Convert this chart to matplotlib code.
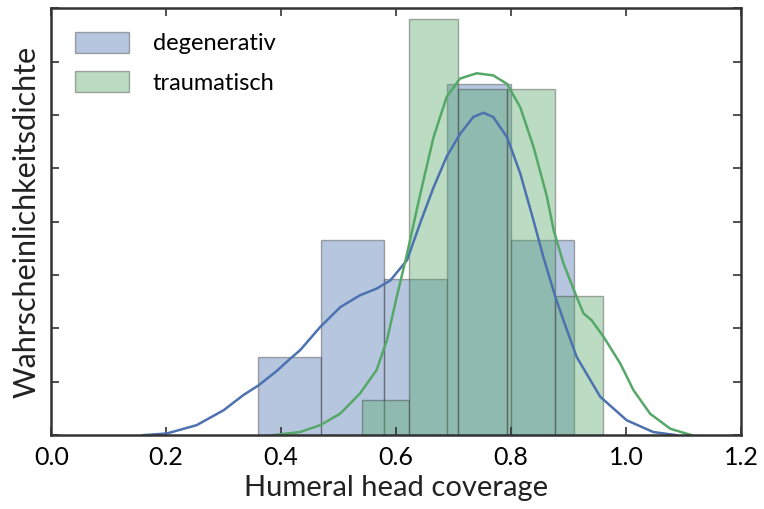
import matplotlib
matplotlib.use("Agg")
import matplotlib.pyplot as plt
import numpy as np

# histogram bins (density)
deg_edges = [0.360, 0.470, 0.579, 0.689, 0.800, 0.910]
deg_heights = [0.73, 1.825, 1.46, 3.285, 1.825]
trau_edges = [0.541, 0.623, 0.708, 0.793, 0.877, 0.960]
trau_heights = [0.325, 3.895, 3.245, 3.245, 1.30]

# kde curves
deg_kde_x = [0.16, 0.201, 0.253, 0.30, 0.334, 0.361, 0.392, 0.416, 0.433, 0.468,
             0.503, 0.537, 0.566, 0.590, 0.619, 0.642, 0.665, 0.688, 0.711, 0.734,
             0.752, 0.769, 0.793, 0.816, 0.839, 0.856, 0.877, 0.891, 0.914, 0.955,
             1.001, 1.047, 1.088]
deg_kde_y = [0.0, 0.016, 0.094, 0.234, 0.375, 0.468, 0.60, 0.718, 0.796, 1.014,
             1.20, 1.31, 1.373, 1.45, 1.64, 1.99, 2.32, 2.61, 2.82, 2.98,
             3.02, 2.98, 2.79, 2.45, 2.01, 1.67, 1.295, 1.077, 0.733, 0.36,
             0.14, 0.03, 0.0]
trau_kde_x = [0.386, 0.433, 0.468, 0.503, 0.537, 0.566, 0.584, 0.601, 0.619, 0.642,
              0.665, 0.688, 0.711, 0.740, 0.769, 0.793, 0.816, 0.839, 0.862, 0.874,
              0.891, 0.914, 0.926, 0.940, 0.961, 0.99, 1.013, 1.042, 1.077, 1.114]
trau_kde_y = [0.0, 0.03, 0.094, 0.203, 0.39, 0.61, 0.89, 1.295, 1.70, 2.26,
              2.79, 3.17, 3.34, 3.39, 3.37, 3.29, 3.07, 2.70, 2.24, 1.92,
              1.61, 1.295, 1.14, 1.077, 0.92, 0.67, 0.42, 0.20, 0.06, 0.0]

blue = "#4C72B0"
green = "#55A868"

plt.rcParams['font.family'] = ['Lato', 'DejaVu Sans']

fig = plt.figure(figsize=(7.64, 5.09), dpi=100)
ax = fig.add_axes([0.067, 0.145, 0.903, 0.839])

for edges, heights, col, lab in [(deg_edges, deg_heights, blue, 'degenerativ'),
                                 (trau_edges, trau_heights, green, 'traumatisch')]:
    left = np.array(edges[:-1])
    width = np.diff(edges)
    ax.bar(left, heights, width, align='edge', color=col, alpha=0.4,
           edgecolor='#333333', linewidth=1.0, label=lab)

ax.plot(deg_kde_x, deg_kde_y, color=blue, lw=1.8, solid_joinstyle='round')
ax.plot(trau_kde_x, trau_kde_y, color=green, lw=1.8, solid_joinstyle='round')

ax.set_xlim(0, 1.2)
ax.set_ylim(0, 4)
ax.set_xticks(np.arange(0, 1.21, 0.2))
ax.set_xticklabels(['0.0', '0.2', '0.4', '0.6', '0.8', '1.0', '1.2'])
ax.set_yticks(np.arange(0, 4.01, 0.5))
ax.set_yticklabels([])
ax.tick_params(direction='in', top=True, right=True, length=6, width=1.2,
               color='#333333', labelsize=18, pad=8)
for s in ax.spines.values():
    s.set_linewidth(1.8)
    s.set_color('#333333')

ax.set_xlabel('Humeral head coverage', fontsize=21, labelpad=4, color='#222222')
ax.set_ylabel('Wahrscheinlichkeitsdichte', fontsize=22, labelpad=0, color='#222222')
ax.legend(loc='upper left', frameon=False, fontsize=17, handlelength=2.3,
          handleheight=1.0, borderaxespad=0.6, labelspacing=0.7, handletextpad=1.0)

fig.savefig('out.png', dpi=100)
